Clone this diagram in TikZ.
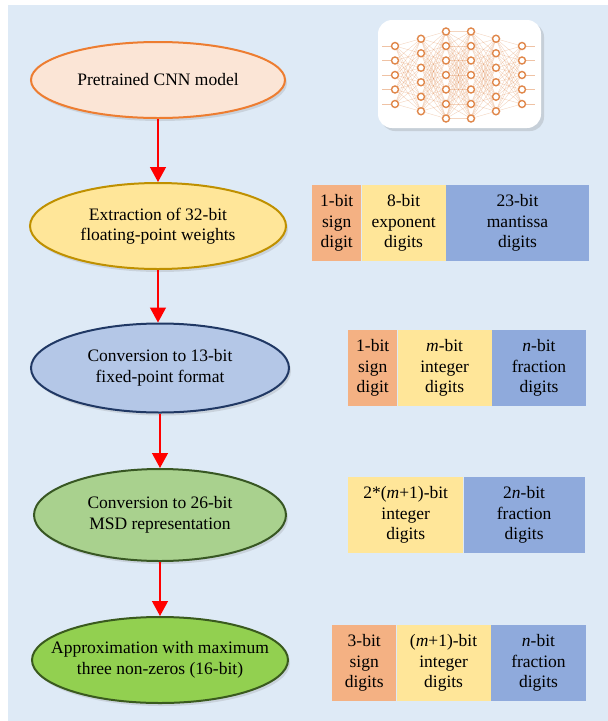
\documentclass[tikz,border=0pt]{standalone}
\usepackage{fontspec}
\setmainfont{Liberation Serif}
\usetikzlibrary{shapes.geometric,arrows.meta,shadows}

\definecolor{panelblue}{HTML}{DEEAF6}
\definecolor{peachfill}{HTML}{FBE5D6}
\definecolor{peachline}{HTML}{ED7D31}
\definecolor{goldfill}{HTML}{FFE699}
\definecolor{goldline}{HTML}{BF9000}
\definecolor{bluefill}{HTML}{B4C7E7}
\definecolor{blueline}{HTML}{203864}
\definecolor{sagefill}{HTML}{A9D18E}
\definecolor{sageline}{HTML}{385723}
\definecolor{limefill}{HTML}{92D050}
\definecolor{limeline}{HTML}{3A5A1E}
\definecolor{segorange}{HTML}{F4B183}
\definecolor{segyellow}{HTML}{FFE699}
\definecolor{segblue}{HTML}{8FAADC}
\definecolor{nnorange}{HTML}{E0874A}

\tikzset{
  stage/.style={ellipse, draw, line width=2pt, inner xsep=-20pt, inner ysep=0pt, align=center,
    drop shadow={opacity=0.22, shadow xshift=2pt, shadow yshift=-3pt}},
  flowarrow/.style={red, line width=1.3pt, -{Triangle[length=15pt,width=16pt]}},
  segment/.style={rectangle, inner sep=0pt, anchor=north west, align=center,
    minimum height=76pt},
  nnline/.style={nnorange, opacity=0.35, line width=0.4pt},
  nnunit/.style={circle, draw=nnorange, fill=white, line width=1.4pt,
    inner sep=0pt, minimum size=7pt},
}

\begin{document}
\begin{tikzpicture}[x=1pt, y=-1pt, font=\fontsize{17.5}{20.5}\selectfont]
  \useasboundingbox (0,0) rectangle (608,721);
  \fill[white] (0,0) rectangle (608,721);
  \fill[panelblue] (8,5) rectangle (608,721);

  % processing stages
  \node[stage, fill=peachfill, draw=peachline, minimum width=254pt, minimum height=76pt]
    (pre) at (158,80) {Pretrained CNN model};
  \node[stage, fill=goldfill, draw=goldline, minimum width=256pt, minimum height=86pt]
    (ext) at (158,226) {Extraction of 32-bit\\floating-point weights};
  \node[stage, fill=bluefill, draw=blueline, minimum width=258pt, minimum height=89pt]
    (fix) at (160,368) {Conversion to 13-bit\\fixed-point format};
  \node[stage, fill=sagefill, draw=sageline, minimum width=252pt, minimum height=92pt]
    (msd) at (160,515) {Conversion to 26-bit\\MSD representation};
  \node[stage, fill=limefill, draw=limeline, minimum width=256pt, minimum height=86pt]
    (apx) at (160,660) {Approximation with maximum\\three non-zeros (16-bit)};

  \draw[flowarrow] (pre.south) -- (pre.south |- ext.north);
  \draw[flowarrow] (ext.south) -- (ext.south |- fix.north);
  \draw[flowarrow] (fix.south) -- (msd.north);
  \draw[flowarrow] (msd.south) -- (apx.north);

  % neural network icon
  \fill[white, rounded corners=14pt,
    drop shadow={opacity=0.25, shadow xshift=3pt, shadow yshift=-3pt}]
    (378,20) rectangle (541,128);
  \foreach \xa/\na/\xb/\nb in {395/5/421/6, 421/6/446/7, 446/7/471/7, 471/7/496/6, 496/6/522/5}{
    \foreach \i in {1,...,\na}{
      \foreach \j in {1,...,\nb}{
        \draw[nnline] (\xa,{75+(\i-(\na+1)/2)*14.5}) -- (\xb,{75+(\j-(\nb+1)/2)*14.5});
      }
    }
  }
  \foreach \i in {1,...,5}{
    \draw[nnline, opacity=0.5] (382,{75+(\i-3)*14.5}) -- (395,{75+(\i-3)*14.5});
    \draw[nnline, opacity=0.5] (522,{75+(\i-3)*14.5}) -- (535,{75+(\i-3)*14.5});
  }
  \foreach \x/\n in {395/5, 421/6, 446/7, 471/7, 496/6, 522/5}{
    \foreach \i in {1,...,\n}{
      \node[nnunit] (unit-\x-\i) at (\x,{75+(\i-(\n+1)/2)*14.5}) {};
    }
  }

  % 32-bit floating-point layout
  \node[segment, fill=segorange, minimum width=49pt] (fa) at (312,185) {1-bit\\sign\\digit};
  \node[segment, fill=segyellow, minimum width=84pt] (fb) at (fa.north east) {8-bit\\exponent\\digits};
  \node[segment, fill=segblue, minimum width=143pt] (fc) at (fb.north east) {23-bit\\mantissa\\digits};

  % 13-bit fixed-point layout
  \node[segment, fill=segorange, minimum width=49pt] (xa) at (348,330) {1-bit\\sign\\digit};
  \node[segment, fill=segyellow, minimum width=94pt] (xb) at (xa.north east) {\textit{m}-bit\\integer\\digits};
  \node[segment, fill=segblue, minimum width=94pt] (xc) at (xb.north east) {\textit{n}-bit\\fraction\\digits};

  % 26-bit MSD layout
  \node[segment, fill=segyellow, minimum width=115pt] (ma) at (348,477) {2*(\textit{m}+1)-bit\\integer\\digits};
  \node[segment, fill=segblue, minimum width=121pt] (mb) at (ma.north east) {2\textit{n}-bit\\fraction\\digits};

  % 16-bit approximated layout
  \node[segment, fill=segorange, minimum width=64pt] (aa) at (332,625) {3-bit\\sign\\digits};
  \node[segment, fill=segyellow, minimum width=94pt] (ab) at (aa.north east) {(\textit{m}+1)-bit\\integer\\digits};
  \node[segment, fill=segblue, minimum width=95pt] (ac) at (ab.north east) {\textit{n}-bit\\fraction\\digits};
\end{tikzpicture}
\end{document}
